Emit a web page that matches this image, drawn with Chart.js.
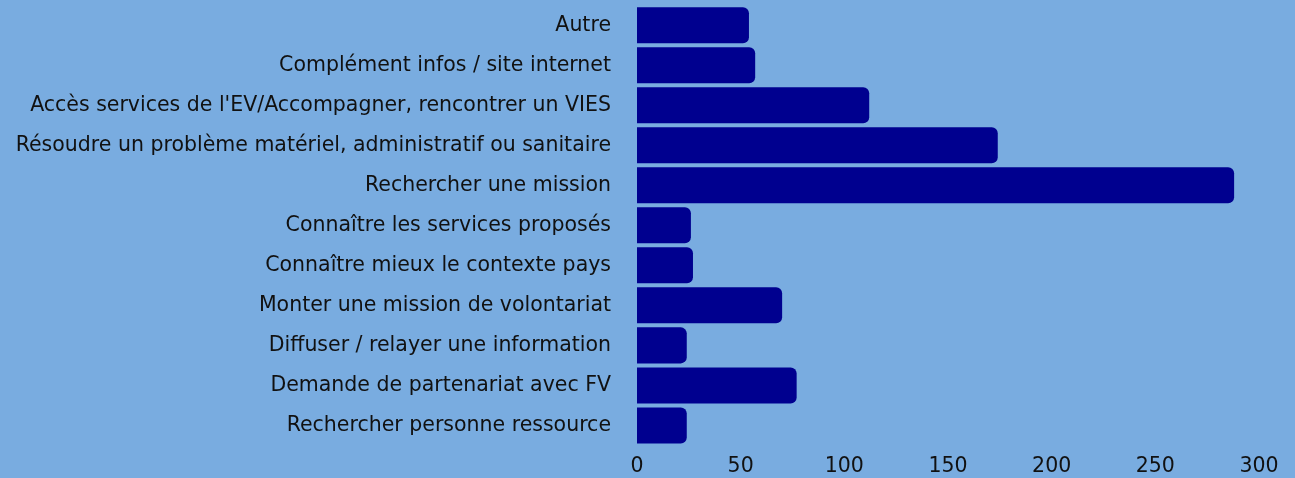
<!DOCTYPE html>
<html>
<head>
<meta charset="utf-8">
<script src="https://cdn.jsdelivr.net/npm/chart.js@4"></script>
<style>
  html, body { margin: 0; padding: 0; background: #79ace0; overflow: hidden; }
  #wrap { width: 1295px; height: 505px; margin-top: -25px; position: relative; }
</style>
</head>
<body>
<div id="wrap"><canvas id="chart"></canvas></div>
<script>
// categories (top to bottom)
const categories = [
    'Autre',
    'Complément infos / site internet',
    "Accès services de l'EV/Accompagner, rencontrer un VIES",
    'Résoudre un problème matériel, administratif ou sanitaire',
    'Rechercher une mission',
    'Connaître les services proposés',
    'Connaître mieux le contexte pays',
    'Monter une mission de volontariat',
    'Diffuser / relayer une information',
    'Demande de partenariat avec FV',
    'Rechercher personne ressource'
];
const counts = [54, 57, 112, 174, 288, 26, 27, 70, 24, 77, 24];
const xTicks = [0, 50, 100, 150, 200, 250, 300];

const labelFont = { family: 'DejaVu Sans', size: 20.5 };

const ctx = document.getElementById('chart');
new Chart(ctx, {
    type: 'bar',
    data: {
        labels: categories,
        datasets: [{
            data: counts,
            backgroundColor: '#00008f',
            borderWidth: 0,
            borderRadius: 6,
            borderSkipped: 'start',
            barPercentage: 0.9,
            categoryPercentage: 1
        }]
    },
    options: {
        indexAxis: 'y',
        responsive: true,
        maintainAspectRatio: false,
        animation: false,
        layout: { padding: { top: 0, right: 36, bottom: 0, left: 15 } },
        plugins: { legend: { display: false }, tooltip: { enabled: false } },
        scales: {
            x: {
                min: 0, max: 300,
                afterBuildTicks: axis => { axis.ticks = xTicks.map(v => ({ value: v })); },
                grid: { display: false },
                border: { display: false },
                ticks: { color: '#111', font: labelFont, padding: 1 }
            },
            y: {
                grid: { display: false },
                border: { display: false },
                ticks: { color: '#111', font: labelFont, padding: 18 }
            }
        }
    }
});
</script>
</body>
</html>
